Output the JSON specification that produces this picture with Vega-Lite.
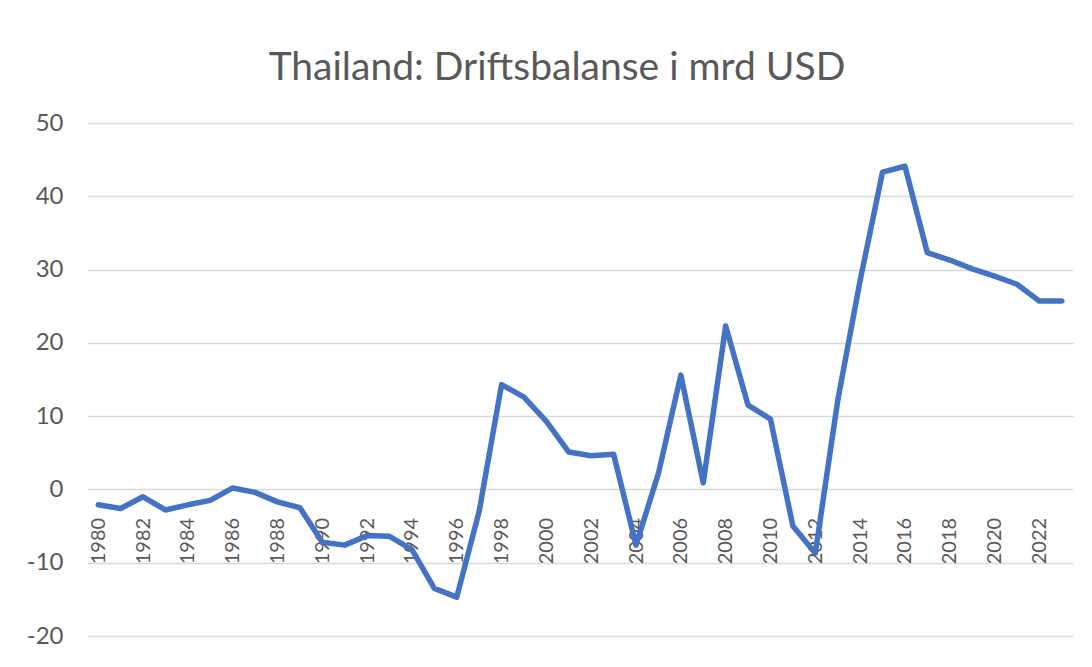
{
  "$schema": "https://vega.github.io/schema/vega-lite/v6.json",
  "width": 986,
  "height": 513,
  "autosize": {"type": "none"},
  "padding": {"left": 87, "top": 123, "right": 19, "bottom": 31},
  "background": "white",
  "title": {
    "text": "Thailand: Driftsbalanse i mrd USD",
    "font": "Lato",
    "fontSize": 39,
    "fontWeight": "normal",
    "color": "#595959",
    "anchor": "middle",
    "baseline": "alphabetic",
    "dx": -23,
    "dy": 52,
    "offset": 44
  },
  "config": {
    "view": {"stroke": null},
    "axis": {"labelFont": "Lato", "labelColor": "#595959"}
  },
  "data": {
    "values": [
      {"year": 1980, "value": -2.1},
      {"year": 1981, "value": -2.6},
      {"year": 1982, "value": -1.0},
      {"year": 1983, "value": -2.8},
      {"year": 1984, "value": -2.1},
      {"year": 1985, "value": -1.5},
      {"year": 1986, "value": 0.2},
      {"year": 1987, "value": -0.4},
      {"year": 1988, "value": -1.7},
      {"year": 1989, "value": -2.5},
      {"year": 1990, "value": -7.2},
      {"year": 1991, "value": -7.6},
      {"year": 1992, "value": -6.3},
      {"year": 1993, "value": -6.4},
      {"year": 1994, "value": -8.2},
      {"year": 1995, "value": -13.5},
      {"year": 1996, "value": -14.7},
      {"year": 1997, "value": -3.0},
      {"year": 1998, "value": 14.3},
      {"year": 1999, "value": 12.6},
      {"year": 2000, "value": 9.3},
      {"year": 2001, "value": 5.1},
      {"year": 2002, "value": 4.6},
      {"year": 2003, "value": 4.8},
      {"year": 2004, "value": -7.6},
      {"year": 2005, "value": 2.2},
      {"year": 2006, "value": 15.6},
      {"year": 2007, "value": 0.9},
      {"year": 2008, "value": 22.3},
      {"year": 2009, "value": 11.5},
      {"year": 2010, "value": 9.6},
      {"year": 2011, "value": -5.0},
      {"year": 2012, "value": -8.7},
      {"year": 2013, "value": 12.1},
      {"year": 2014, "value": 28.5},
      {"year": 2015, "value": 43.3},
      {"year": 2016, "value": 44.1},
      {"year": 2017, "value": 32.3},
      {"year": 2018, "value": 31.3},
      {"year": 2019, "value": 30.1},
      {"year": 2020, "value": 29.1},
      {"year": 2021, "value": 28.0},
      {"year": 2022, "value": 25.7},
      {"year": 2023, "value": 25.7}
    ]
  },
  "mark": {"type": "line", "color": "#4472C4", "strokeWidth": 5.5, "strokeJoin": "round", "strokeCap": "round"},
  "encoding": {
    "x": {
      "field": "year",
      "type": "quantitative",
      "scale": {"domain": [1979.5, 2023.5], "nice": false, "zero": false},
      "axis": {
        "title": null,
        "values": [1980, 1982, 1984, 1986, 1988, 1990, 1992, 1994, 1996, 1998, 2000, 2002, 2004, 2006, 2008, 2010, 2012, 2014, 2016, 2018, 2020, 2022],
        "format": "d",
        "labelFontSize": 20,
        "labelAngle": -90,
        "labelAlign": "right",
        "labelBaseline": "middle",
        "labelPadding": 28,
        "offset": -146.6,
        "grid": false,
        "ticks": false,
        "domain": false,
        "labelFlush": false,
        "labelOverlap": false
      }
    },
    "y": {
      "field": "value",
      "type": "quantitative",
      "scale": {"domain": [-20, 50], "nice": false, "zero": false},
      "axis": {
        "title": null,
        "values": [-20, -10, 0, 10, 20, 30, 40, 50],
        "labelExpr": "'' + datum.value",
        "labelFontSize": 24,
        "grid": true,
        "gridColor": "#d9d9d9",
        "gridWidth": 1.5,
        "ticks": false,
        "domain": false,
        "labelPadding": 24,
        "labelFlush": false
      }
    }
  }
}
